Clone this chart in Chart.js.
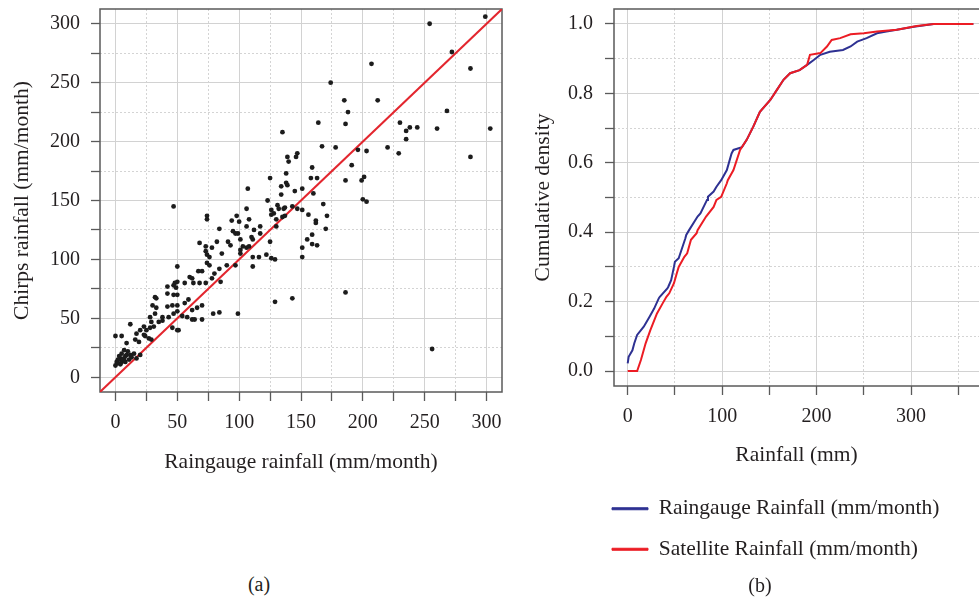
<!DOCTYPE html>
<html>
<head>
<meta charset="utf-8">
<script src="https://cdn.jsdelivr.net/npm/chart.js@4/dist/chart.umd.min.js"></script>
<style>
  html, body { margin: 0; padding: 0; background: #ffffff; }
  #wrap { position: relative; width: 979px; height: 598px; overflow: hidden; background: #fff; }
  canvas { position: absolute; }
  .cap { position: absolute; font-family: "Liberation Serif", "DejaVu Serif", serif; font-size: 20px; color: #231f20; transform: translate(-50%, -50%); white-space: nowrap; }
</style>
</head>
<body>
<div id="wrap">
  <canvas id="c1" width="520" height="480" style="left:0px;top:0px;"></canvas>
  <canvas id="c2" width="459" height="472" style="left:520px;top:0px;"></canvas>
  <canvas id="c3" width="386" height="240" style="left:593px;top:479px;"></canvas>
  <div class="cap" style="left:259px;top:584px;">(a)</div>
  <div class="cap" style="left:760px;top:585px;">(b)</div>
</div>
<script>
// ---------------- DATA ----------------
// Panel (a): scatter, raingauge (x) vs CHIRPS (y), mm/month
const raingauge = [254,299,272,287,207,174,185,188,212,268,186,164,135,230,235,238,244,235,260,303,
287,167,178,196,203,220,229,147,146,139,140,191,138,159,125,158,163,186,199,201,
134,138,139,145,151,107,134,160,123,168,200,203,47,131,132,136,137,143,147,151,
126,128,106,130,135,137,126,156,171,162,162,74,74,98,94,100,108,106,117,112,
84,130,170,159,82,91,93,95,97,99,101,103,106,108,110,111,117,125,68,73,
73,74,76,78,86,101,101,111,116,122,126,129,151,151,155,159,163,90,97,111,
74,76,50,84,67,70,80,60,62,85,78,42,47,48,50,56,63,68,73,32,
33,143,186,129,99,79,84,256,42,47,49,50,42,46,50,38,43,47,50,54,
58,62,56,59,62,64,70,66,70,46,50,51,28,29,32,30,33,23,25,12,
0,5,17,20,23,24,16,19,9,27,29,0,1,4,5,7,8,9,11,2,
5,7,12,15,17,20,3,6,10,2,4,8,13,35,38,28,31];
const chirps = [300,306,276,262,266,250,235,225,235,226,215,216,208,216,209,212,212,202,211,211,
187,196,195,193,192,195,190,190,187,187,183,180,173,178,169,169,169,167,167,170,
162,165,163,158,160,160,155,156,150,147,151,149,145,146,143,143,144,145,143,142,
142,139,143,134,136,137,138,138,137,133,131,137,134,137,133,132,134,128,128,125,
126,128,126,121,115,115,112,124,122,122,117,111,110,111,119,117,122,115,114,111,
107,104,102,110,105,108,105,102,102,104,101,100,102,110,117,113,112,95,95,94,
97,95,94,92,90,90,88,85,84,81,84,77,78,80,81,80,80,80,80,68,
67,67,72,64,54,54,55,24,71,70,76,70,60,61,61,51,51,54,56,52,
51,57,63,66,49,49,49,59,61,42,40,40,51,47,54,61,59,43,40,45,
35,35,37,40,36,35,32,30,29,33,32,10,13,16,20,23,18,19,15,12,
13,16,19,20,16,19,18,15,22,15,11,13,17,47,48,42,43];
// 1:1 reference line end values
const oneToOne = [-12.5, 312.5];

// Panel (b): cumulative density curves
const gaugeCdfX = [0,1,5,7,10,17,23,28,33,34,42,43,46,49,50,54,61,62,65,74,77,84,85,91,94,99,105,110,112,121,126,133,140,151,158,165,172,182,190,197,204,214,228,236,243,253,264,274,285,303,324,366];
const gaugeCdfY = [0.022,0.041,0.06,0.08,0.104,0.128,0.156,0.18,0.21,0.214,0.238,0.243,0.262,0.3,0.315,0.325,0.382,0.392,0.406,0.445,0.454,0.493,0.502,0.517,0.531,0.55,0.579,0.627,0.637,0.645,0.666,0.704,0.747,0.781,0.81,0.839,0.858,0.867,0.882,0.896,0.911,0.92,0.925,0.935,0.949,0.959,0.973,0.978,0.983,0.992,1.0,1.0];
const satCdfX = [0,10,14,19,24,31,37,41,44,49,52,54,60,63,67,73,74,83,91,94,99,105,106,112,119,126,133,140,151,158,165,172,182,190,193,204,211,216,225,236,250,264,285,306,324,366];
const satCdfY = [0,0,0.032,0.08,0.118,0.166,0.195,0.214,0.224,0.253,0.282,0.3,0.329,0.339,0.378,0.397,0.406,0.445,0.473,0.493,0.502,0.541,0.55,0.579,0.637,0.666,0.704,0.747,0.781,0.81,0.839,0.858,0.867,0.882,0.911,0.916,0.935,0.954,0.959,0.97,0.973,0.978,0.983,0.994,1.0,1.0];

const seriesLabels = ['Raingauge Rainfall (mm/month)', 'Satellite Rainfall (mm/month)'];
const axisTitles = {
  aX: 'Raingauge rainfall (mm/month)', aY: 'Chirps rainfall (mm/month)',
  bX: 'Rainfall (mm)', bY: 'Cumulative density'
};

// ---------------- STYLE ----------------
const FONT = '"Liberation Serif", "DejaVu Serif", serif';
const TXT = '#231f20';
const BLUE = '#2e3192';
const RED = '#ec1c24';
const GRID = '#d2d2d2';
const MINOR = '#d4d4d4';
const FRAME = '#5a5a5a';
const TITLE_SIZE = 21.5;

Chart.defaults.font.family = FONT;
Chart.defaults.color = TXT;

const near = (v, step) => Math.abs(v / step - Math.round(v / step)) < 1e-6;
function stepTicks(step) {
  return (scale) => {
    const t = [];
    for (let k = Math.ceil(scale.min / step - 1e-9); k * step <= scale.max + 1e-9; k++) {
      t.push({ value: Math.round(k * step * 1e6) / 1e6 });
    }
    scale.ticks = t;
  };
}
function noPad(s) { s.paddingTop = 0; s.paddingBottom = 0; s.paddingLeft = 0; s.paddingRight = 0; }
function majorAxis(o) {
  const horiz = o.position === 'bottom';
  return {
    type: 'linear', position: o.position, min: o.min, max: o.max,
    afterBuildTicks: stepTicks(o.minor),
    afterFit: (s) => { if (horiz) s.height = o.size; else s.width = o.size; noPad(s); },
    grid: {
      color: (c) => (c.tick && near(c.tick.value, o.major)) ? GRID : 'rgba(0,0,0,0)',
      lineWidth: 1, drawTicks: true, tickLength: 9, tickColor: FRAME, tickWidth: 1.3
    },
    border: { display: false },
    ticks: {
      autoSkip: false, maxRotation: 0, padding: o.pad,
      font: { size: 20, family: FONT }, color: TXT,
      callback: (v) => near(v, o.major) ? o.fmt(v) : ''
    },
    title: {
      display: true, text: o.title, color: TXT, font: { size: TITLE_SIZE, family: FONT },
      padding: horiz ? { top: 0, bottom: o.tpad } : { top: o.tpad, bottom: 0 }
    }
  };
}
function minorAxis(o) {
  const horiz = o.position === 'bottom';
  return {
    type: 'linear', position: o.position, min: o.min, max: o.max,
    afterBuildTicks: stepTicks(o.minor),
    afterFit: (s) => { if (horiz) s.height = 0; else s.width = 0; noPad(s); },
    grid: {
      color: (c) => (c.tick && !near(c.tick.value, o.major)) ? MINOR : 'rgba(0,0,0,0)',
      lineWidth: 1, drawTicks: false
    },
    border: { display: false, dash: [2, 2] },
    ticks: { display: false },
    title: { display: false }
  };
}
const framePlugin = {
  id: 'frame',
  beforeDatasetsDraw(chart, args, opts) {
    const a = chart.chartArea, ctx = chart.ctx;
    ctx.save();
    ctx.strokeStyle = FRAME;
    ctx.lineWidth = 1.5;
    ctx.strokeRect(a.left, a.top, (a.right - a.left) + (opts.openRight ? 20 : 0), a.bottom - a.top);
    ctx.restore();
  }
};

// ---------------- PANEL (a) ----------------
const scatterPts = raingauge.map((x, i) => ({ x: x, y: chirps[i] }));
const refLine = oneToOne.map(v => ({ x: v, y: v }));

new Chart(document.getElementById('c1'), {
  type: 'scatter',
  data: {
    datasets: [
      { type: 'line', data: refLine, borderColor: '#e3262e', borderWidth: 2, pointRadius: 0, fill: false, order: 2 },
      { data: scatterPts, pointRadius: 2.4, pointBackgroundColor: '#1c1c1c', pointBorderWidth: 0, order: 1 }
    ]
  },
  options: {
    responsive: false, animation: false, devicePixelRatio: 1,
    layout: { padding: { left: 0, top: 9, right: 18, bottom: 0 } },
    plugins: { legend: { display: false }, tooltip: { enabled: false }, frame: {} },
    scales: {
      x: majorAxis({ position: 'bottom', min: -12.5, max: 312.5, minor: 25, major: 50, size: 88, pad: 10, tpad: 5, title: axisTitles.aX, fmt: v => String(Math.round(v)) }),
      xm: minorAxis({ position: 'bottom', min: -12.5, max: 312.5, minor: 25, major: 50 }),
      y: majorAxis({ position: 'left', min: -12.5, max: 312.5, minor: 25, major: 50, size: 100, pad: 11, tpad: 9, title: axisTitles.aY, fmt: v => String(Math.round(v)) }),
      ym: minorAxis({ position: 'left', min: -12.5, max: 312.5, minor: 25, major: 50 })
    }
  },
  plugins: [framePlugin]
});

// ---------------- PANEL (b) ----------------
const gaugePts = gaugeCdfX.map((x, i) => ({ x: x, y: gaugeCdfY[i] }));
const satPts = satCdfX.map((x, i) => ({ x: x, y: satCdfY[i] }));

new Chart(document.getElementById('c2'), {
  type: 'line',
  data: {
    datasets: [
      { label: seriesLabels[1], data: satPts, borderColor: RED, borderWidth: 2, pointRadius: 0, fill: false, tension: 0 },
      { label: seriesLabels[0], data: gaugePts, borderColor: BLUE, borderWidth: 2, pointRadius: 0, fill: false, tension: 0 }
    ]
  },
  options: {
    responsive: false, animation: false, devicePixelRatio: 1,
    layout: { padding: { left: 0, top: 9, right: 0, bottom: 0 } },
    plugins: { legend: { display: false }, tooltip: { enabled: false }, frame: { openRight: true } },
    scales: {
      x: majorAxis({ position: 'bottom', min: -14.5, max: 372, minor: 50, major: 100, size: 86, pad: 10, tpad: 4, title: axisTitles.bX, fmt: v => String(Math.round(v)) }),
      xm: minorAxis({ position: 'bottom', min: -14.5, max: 372, minor: 50, major: 100 }),
      y: majorAxis({ position: 'left', min: -0.043, max: 1.043, minor: 0.1, major: 0.2, size: 94, pad: 12, tpad: 10, title: axisTitles.bY, fmt: v => v.toFixed(1) }),
      ym: minorAxis({ position: 'left', min: -0.043, max: 1.043, minor: 0.1, major: 0.2 })
    }
  },
  plugins: [framePlugin]
});

// ---------------- LEGEND for (b) ----------------
new Chart(document.getElementById('c3'), {
  type: 'line',
  data: {
    datasets: [
      { label: seriesLabels[0], data: [], borderColor: BLUE, backgroundColor: BLUE, borderWidth: 1 },
      { label: seriesLabels[1], data: [], borderColor: RED, backgroundColor: RED, borderWidth: 1 }
    ]
  },
  options: {
    responsive: false, animation: false, devicePixelRatio: 1,
    layout: { padding: 0 },
    scales: { x: { display: false }, y: { display: false } },
    plugins: {
      tooltip: { enabled: false },
      legend: {
        position: 'top', align: 'start',
        labels: { boxWidth: 36, boxHeight: 2, padding: 19, color: TXT, font: { size: TITLE_SIZE, family: FONT } }
      }
    }
  }
});
</script>
</body>
</html>
